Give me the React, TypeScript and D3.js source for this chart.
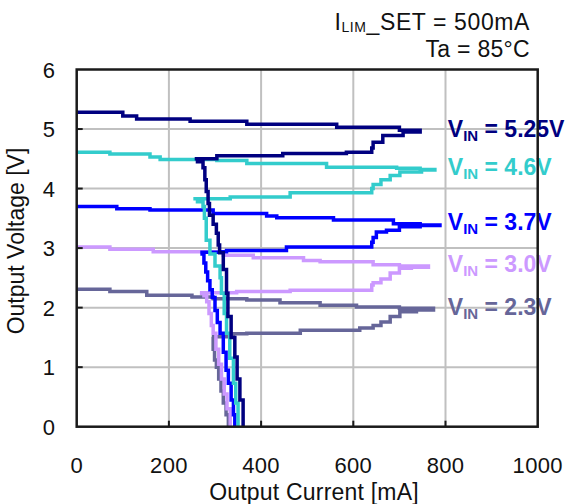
import React from 'react';
import * as d3 from 'd3';

const W = 566;
const H = 504;
const PLOT = { left: 76.7, right: 537.7, top: 69.5, bottom: 426.7 };

const xTickValues = [0, 200, 400, 600, 800, 1000];
const yTickValues = [0, 1, 2, 3, 4, 5, 6];
const xGridValues = [200, 400, 600, 800];
const yGridValues = [1, 2, 3, 4, 5];

const seriesNames = ['5.25V', '4.6V', '3.7V', '3.0V', '2.3V'];
const seriesColors = ['#000080', '#33CCCC', '#0000FF', '#CC99FF', '#666699'];
const labelCurrent = 805;

// [output current mA, output voltage V]
const vin525: [number, number][] = [
  [0, 5.28], [100, 5.22], [130, 5.17], [246, 5.13], [369, 5.08], [564, 5.03], [700, 4.98], [745, 4.95],
  [708, 4.89], [664, 4.78], [643, 4.68], [640, 4.61], [585, 4.59], [447, 4.55], [304, 4.5], [256, 4.5],
  [262, 4.45], [274, 4.35], [278, 4.15], [281, 3.95], [285, 3.75], [288, 3.55], [296, 3.4], [303, 3.25],
  [307, 3.05], [310, 2.92], [318, 2.64], [325, 2.24], [328, 1.85], [335, 1.5], [343, 1.17], [348, 0.8],
  [354, 0.45], [361, 0.0],
];
const vin46: [number, number][] = [
  [0, 4.61], [72, 4.58], [159, 4.53], [181, 4.49], [304, 4.47], [369, 4.42], [542, 4.36], [694, 4.34],
  [745, 4.32], [777, 4.31],
  [748, 4.28], [701, 4.22], [680, 4.15], [660, 4.07], [643, 4.0], [640, 3.93], [463, 3.86], [333, 3.83],
  [253, 3.83],
  [262, 3.78], [274, 3.7], [277, 3.5], [281, 3.13], [289, 2.9], [300, 2.7], [311, 2.5], [314, 2.24],
  [320, 1.9], [325, 1.57], [332, 1.15], [340, 0.73], [345, 0.4], [350, 0.0],
];
const vin37: [number, number][] = [
  [0, 3.7], [87, 3.66], [159, 3.64], [296, 3.58], [412, 3.54], [434, 3.51], [557, 3.47], [687, 3.41],
  [745, 3.39], [788, 3.38],
  [745, 3.36], [700, 3.3], [672, 3.27], [650, 3.18], [643, 3.1], [640, 3.02], [455, 2.96], [325, 2.94],
  [311, 2.93], [268, 2.93],
  [272, 2.9], [276, 2.75], [280, 2.6], [284, 2.45], [289, 2.3], [294, 2.17], [300, 1.95], [305, 1.75],
  [311, 1.57], [318, 1.25], [324, 0.95], [329, 0.73], [335, 0.45], [340, 0.2], [343, 0.0],
];
const vin30: [number, number][] = [
  [0, 3.02], [72, 2.98], [166, 2.94], [318, 2.88], [383, 2.84], [492, 2.79], [528, 2.77], [643, 2.72],
  [700, 2.7], [763, 2.68],
  [726, 2.66], [700, 2.58], [680, 2.48], [660, 2.42], [643, 2.38], [640, 2.29], [463, 2.27], [347, 2.25],
  [271, 2.24],
  [276, 2.2], [282, 2.1], [287, 1.9], [292, 1.7], [296, 1.57], [302, 1.3], [308, 1.05], [314, 0.8],
  [320, 0.55], [326, 0.3], [333, 0.0],
];
const vin23: [number, number][] = [
  [0, 2.31], [72, 2.27], [152, 2.21], [250, 2.18], [296, 2.15], [369, 2.13], [441, 2.08], [528, 2.04],
  [607, 2.01], [700, 1.99], [774, 1.96],
  [737, 1.93], [701, 1.85], [680, 1.76], [660, 1.7], [643, 1.66], [614, 1.62], [485, 1.57], [369, 1.56],
  [340, 1.51], [293, 1.51],
  [296, 1.3], [299, 1.12], [303, 1.0], [308, 0.8], [313, 0.6], [318, 0.4], [324, 0.2], [329, 0.0],
];

const seriesData = [vin525, vin46, vin37, vin30, vin23];
const tipVoltages = seriesData.map((s) => s.reduce((a, b) => (b[0] > a[0] ? b : a))[1]);

const FONT = '"Liberation Sans", Arial, sans-serif';

export default function App() {
  const x = d3.scaleLinear().domain([0, 1000]).range([PLOT.left, PLOT.right]);
  const y = d3.scaleLinear().domain([0, 6]).range([PLOT.bottom, PLOT.top]);
  const line = d3
    .line<[number, number]>()
    .x((d) => x(d[0]))
    .y((d) => y(d[1]))
    .curve(d3.curveStepAfter);

  const drawOrder = [4, 3, 2, 1, 0];

  return (
    <svg
      width={W}
      height={H}
      style={{ position: 'absolute', left: 0, top: 0, background: '#fff' }}
      fontFamily={FONT}
    >
      <rect x={0} y={0} width={W} height={H} fill="#fff" />
      {/* grid */}
      {xGridValues.map((v) => (
        <line key={'gx' + v} x1={x(v)} x2={x(v)} y1={PLOT.top} y2={PLOT.bottom} stroke="#c0c0c0" strokeWidth={2} />
      ))}
      {yGridValues.map((v) => (
        <line key={'gy' + v} x1={PLOT.left} x2={PLOT.right} y1={y(v)} y2={y(v)} stroke="#c0c0c0" strokeWidth={2} />
      ))}
      {/* series lines */}
      {drawOrder.map((i) => (
        <path
          key={'s' + i}
          d={line(seriesData[i]) || ''}
          fill="none"
          stroke={seriesColors[i]}
          strokeWidth={3.5}
          strokeLinejoin="miter"
        />
      ))}
      {/* series labels */}
      {seriesNames.map((name, i) => (
        <text
          key={'l' + i}
          x={x(labelCurrent)}
          y={y(tipVoltages[i]) + 5}
          fill={seriesColors[i]}
          fontWeight="bold"
          fontSize={23}
        >
          V
          <tspan fontSize={15} dy={4}>IN</tspan>
          <tspan dy={-4}>{' = ' + name}</tspan>
        </text>
      ))}
      {/* frame */}
      <rect
        x={PLOT.left}
        y={PLOT.top}
        width={PLOT.right - PLOT.left}
        height={PLOT.bottom - PLOT.top}
        fill="none"
        stroke="#1a1a1a"
        strokeWidth={2.5}
      />
      {/* ticks */}
      {xGridValues.map((v) => (
        <line key={'tx' + v} x1={x(v)} x2={x(v)} y1={PLOT.bottom} y2={PLOT.bottom - 6} stroke="#1a1a1a" strokeWidth={2} />
      ))}
      {yGridValues.map((v) => (
        <line key={'ty' + v} x1={PLOT.left} x2={PLOT.left + 6} y1={y(v)} y2={y(v)} stroke="#1a1a1a" strokeWidth={2} />
      ))}
      {/* tick labels */}
      {xTickValues.map((v) => (
        <text key={'xl' + v} x={x(v)} y={473} textAnchor="middle" fontSize={22} fill="#111" letterSpacing={0.3}>
          {v}
        </text>
      ))}
      {yTickValues.map((v) => (
        <text key={'yl' + v} x={55} y={y(v) + 8} textAnchor="end" fontSize={22} fill="#111">
          {v}
        </text>
      ))}
      {/* axis titles */}
      <text x={314} y={500} textAnchor="middle" fontSize={23} fill="#111" letterSpacing={0.2}>
        Output Current [mA]
      </text>
      <text
        transform={`translate(24,${241}) rotate(-90)`}
        textAnchor="middle"
        fontSize={23}
        fill="#111"
      >
        Output Voltage [V]
      </text>
      {/* annotation */}
      <text x={530} y={30} textAnchor="end" fontSize={23} fill="#111" letterSpacing={0.6}>
        I<tspan fontSize={14} dy={2}>LIM</tspan>
        <tspan dy={-2}>_SET = 500mA</tspan>
      </text>
      <text x={530} y={57} textAnchor="end" fontSize={23} fill="#111" letterSpacing={0.3}>
        Ta = 85°C
      </text>
    </svg>
  );
}
